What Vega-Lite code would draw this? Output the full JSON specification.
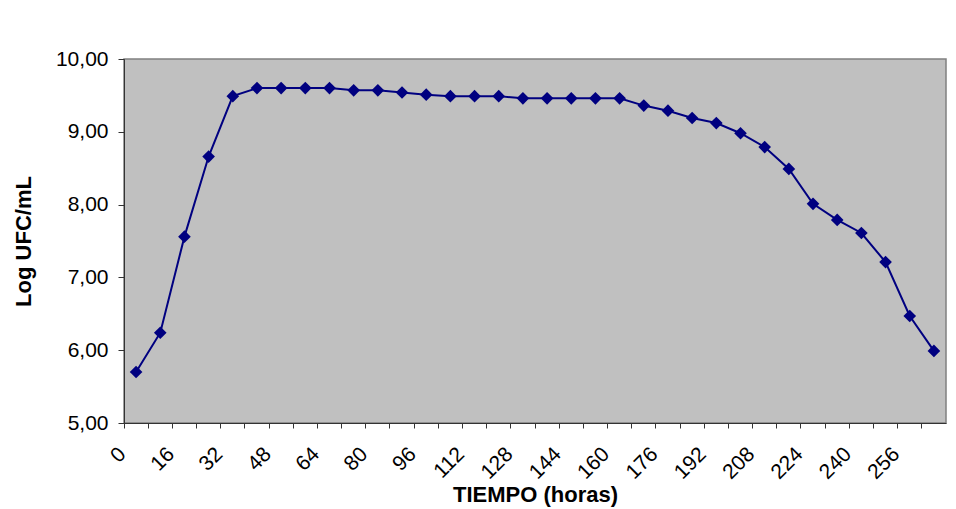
{
  "$schema": "https://vega.github.io/schema/vega-lite/v6.json",
  "autosize": {"type": "none"},
  "width": 822,
  "height": 364,
  "padding": {"left": 124, "top": 59, "right": 10, "bottom": 86},
  "background": "#ffffff",
  "config": {
    "view": {"fill": "#C0C0C0", "stroke": "#808080", "strokeWidth": 1.5},
    "font": "Liberation Sans"
  },
  "data": {
    "values": [
      {"t": 0, "v": 5.70}, {"t": 8, "v": 6.24}, {"t": 16, "v": 7.56}, {"t": 24, "v": 8.66},
      {"t": 32, "v": 9.49}, {"t": 40, "v": 9.60}, {"t": 48, "v": 9.60}, {"t": 56, "v": 9.60},
      {"t": 64, "v": 9.60}, {"t": 72, "v": 9.57}, {"t": 80, "v": 9.57}, {"t": 88, "v": 9.54},
      {"t": 96, "v": 9.51}, {"t": 104, "v": 9.49}, {"t": 112, "v": 9.49}, {"t": 120, "v": 9.49},
      {"t": 128, "v": 9.46}, {"t": 136, "v": 9.46}, {"t": 144, "v": 9.46}, {"t": 152, "v": 9.46},
      {"t": 160, "v": 9.46}, {"t": 168, "v": 9.36}, {"t": 176, "v": 9.29}, {"t": 184, "v": 9.19},
      {"t": 192, "v": 9.12}, {"t": 200, "v": 8.98}, {"t": 208, "v": 8.79}, {"t": 216, "v": 8.49},
      {"t": 224, "v": 8.01}, {"t": 232, "v": 7.79}, {"t": 240, "v": 7.61}, {"t": 248, "v": 7.21},
      {"t": 256, "v": 6.47}, {"t": 264, "v": 5.99}
    ]
  },
  "encoding": {
    "x": {
      "field": "t",
      "type": "ordinal",
      "scale": {"type": "band", "paddingInner": 0, "paddingOuter": 0},
      "axis": {
        "title": "TIEMPO (horas)",
        "titleFont": "Liberation Sans",
        "titleFontSize": 22,
        "titleFontWeight": "bold",
        "titleColor": "#000000",
        "titlePadding": 2,
        "bandPosition": 0,
        "labelAngle": -45,
        "labelAlign": "right",
        "labelBaseline": "top",
        "labelFontSize": 21,
        "labelColor": "#000000",
        "labelPadding": 15,
        "labelOffset": -21,
        "labelExpr": "datum.value % 16 === 0 ? datum.label : ''",
        "labelOverlap": false,
        "tickSize": 5,
        "tickColor": "#333333",
        "domainColor": "#333333",
        "grid": false
      }
    },
    "y": {
      "field": "v",
      "type": "quantitative",
      "scale": {"domain": [5, 10], "nice": false, "zero": false},
      "axis": {
        "title": "Log UFC/mL",
        "titleFont": "Liberation Sans",
        "titleFontSize": 22,
        "titleFontWeight": "bold",
        "titleColor": "#000000",
        "titlePadding": 20,
        "values": [5, 6, 7, 8, 9, 10],
        "labelExpr": "replace(format(datum.value, '.2f'), '.', ',')",
        "labelFontSize": 21,
        "labelColor": "#000000",
        "labelPadding": 10,
        "tickSize": 6,
        "tickColor": "#333333",
        "domainColor": "#333333",
        "grid": false
      }
    }
  },
  "layer": [
    {"mark": {"type": "line", "color": "#000080", "strokeWidth": 2}},
    {"mark": {"type": "point", "shape": "diamond", "filled": true, "color": "#000080", "opacity": 1, "size": 160}}
  ]
}
